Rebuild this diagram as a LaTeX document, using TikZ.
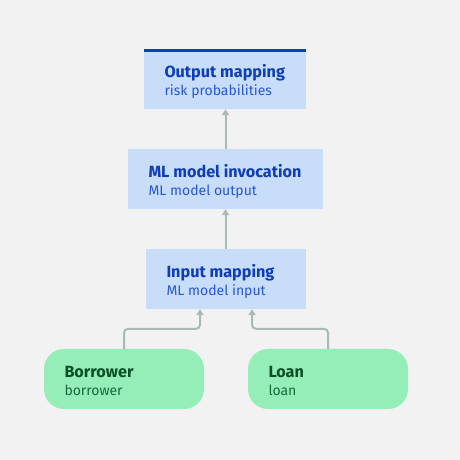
\documentclass[tikz,border=0pt]{standalone}
\usepackage{fontspec}
\setmainfont{Fira Sans}
\usetikzlibrary{arrows.meta}
\definecolor{bg}{HTML}{F2F2F2}
\definecolor{bluebox}{HTML}{C7DDFA}
\definecolor{bluebar}{HTML}{0B3EC0}
\definecolor{bluetitle}{HTML}{0F3DB5}
\definecolor{bluesub}{HTML}{2A58CC}
\definecolor{greenbox}{HTML}{95EEB8}
\definecolor{greentitle}{HTML}{0A4F26}
\definecolor{greensub}{HTML}{17693A}
\definecolor{arrowc}{HTML}{A9B9B5}
\tikzset{
  x=1pt,y=1pt,
  bluenode/.style={fill=bluebox,draw=none,minimum height=60pt,inner sep=0pt},
  greennode/.style={fill=greenbox,draw=none,minimum height=60pt,minimum width=160pt,inner sep=0pt,rounded corners=20pt},
  titleb/.style={anchor=base west,inner sep=0pt,font=\fontsize{16.2}{18}\selectfont\bfseries,text=bluetitle},
  subb/.style={anchor=base west,inner sep=0pt,font=\fontsize{14}{16}\selectfont,text=bluesub},
  titleg/.style={anchor=base west,inner sep=0pt,font=\fontsize{16.2}{18}\selectfont\bfseries,text=greentitle},
  subg/.style={anchor=base west,inner sep=0pt,font=\fontsize{14}{16}\selectfont,text=greensub},
  arr/.style={draw=arrowc,line width=2pt,-{Triangle[length=6pt,width=7pt]},rounded corners=4pt},
}
\begin{document}
\begin{tikzpicture}
\fill[bg] (0,0) rectangle (460,460);
\useasboundingbox (0,0) rectangle (460,460);
% boxes
\node[bluenode,minimum width=162pt] (outmap) at (225,381) {};
\fill[bluebar] (outmap.north west) rectangle ([yshift=-3pt]outmap.north east);
\node[bluenode,minimum width=195pt] (mlinv) at (225.5,281) {};
\node[bluenode,minimum width=160pt] (inmap) at (226,181) {};
\node[greennode] (borrower) at (124,81) {};
\node[greennode] (loan) at (328,81) {};
% texts
\node[titleb] (t1) at ([xshift=20.5pt,yshift=31.5pt]outmap.west |- outmap.south) {Output mapping};
\node[subb] (s1) at ([xshift=20.5pt,yshift=14pt]outmap.west |- outmap.south) {risk probabilities};
\node[titleb] (t2) at ([xshift=20.5pt,yshift=32pt]mlinv.west |- mlinv.south) {ML model invocation};
\node[subb] (s2) at ([xshift=20.5pt,yshift=14pt]mlinv.west |- mlinv.south) {ML model output};
\node[titleb] (t3) at ([xshift=20.5pt,yshift=32pt]inmap.west |- inmap.south) {Input mapping};
\node[subb] (s3) at ([xshift=20.5pt,yshift=14pt]inmap.west |- inmap.south) {ML model input};
\node[titleg] (t4) at ([xshift=20.5pt,yshift=32pt]borrower.west |- borrower.south) {Borrower};
\node[subg] (s4) at ([xshift=20.5pt,yshift=14pt]borrower.west |- borrower.south) {borrower};
\node[titleg] (t5) at ([xshift=20.5pt,yshift=32pt]loan.west |- loan.south) {Loan};
\node[subg] (s5) at ([xshift=20.5pt,yshift=14pt]loan.west |- loan.south) {loan};
% connectors
\coordinate (cb) at ([xshift=-26pt]inmap.south);
\coordinate (cl) at ([xshift=26pt]inmap.south);
\draw[arr] (borrower.north) -- ++(0,20) -| (cb);
\draw[arr] (loan.north) -- ++(0,20) -| (cl);
\draw[arr] (inmap.north -| mlinv.south) -- (mlinv.south);
\draw[arr] (mlinv.north) -- (outmap.south -| mlinv.north);
\end{tikzpicture}
\end{document}
